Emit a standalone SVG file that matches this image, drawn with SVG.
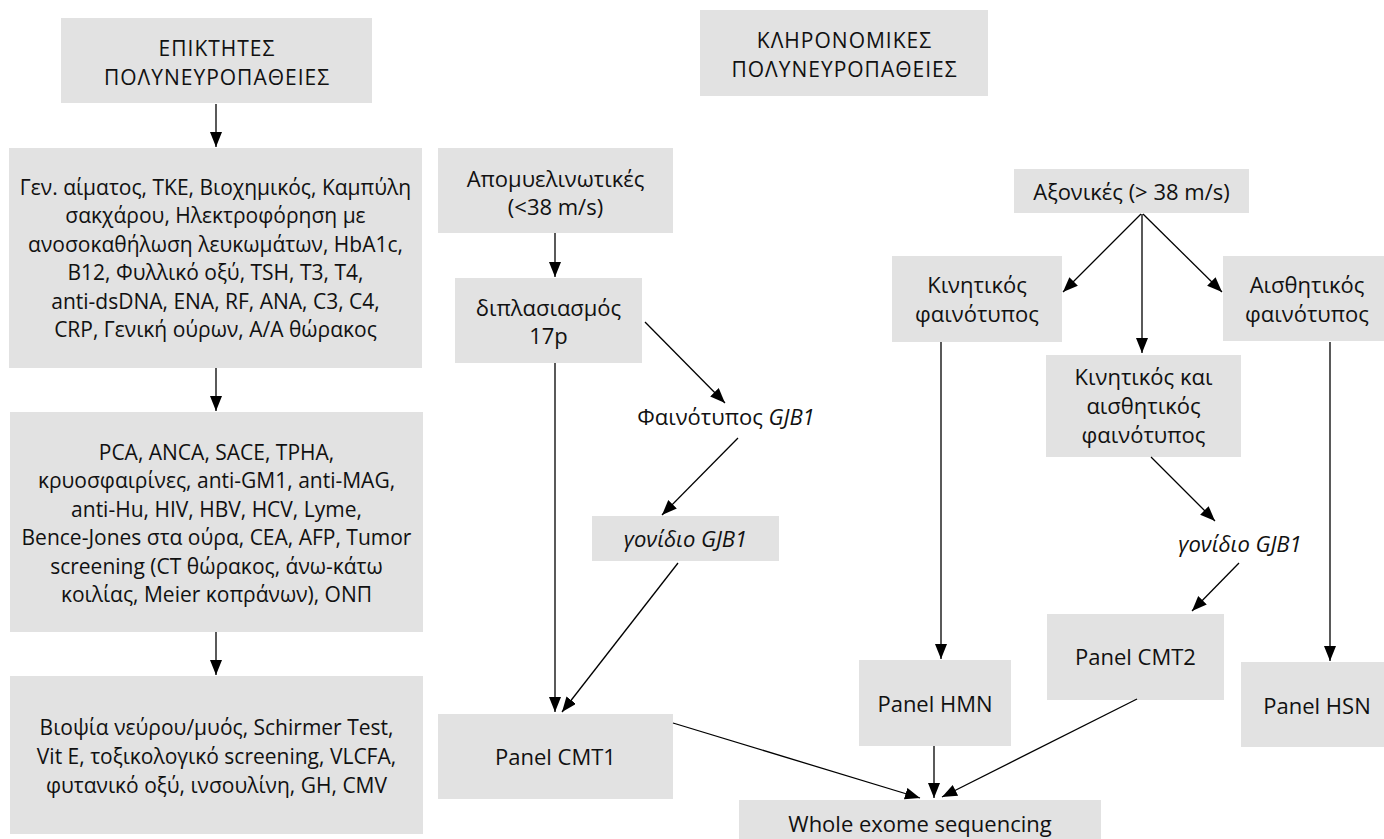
<svg xmlns="http://www.w3.org/2000/svg" width="1384" height="839" viewBox="0 0 1384 839">
<defs>
<marker id="ah" markerUnits="userSpaceOnUse" markerWidth="15" markerHeight="13" refX="15" refY="6" orient="auto">
<path d="M0,0 L15,6 L0,12 z" fill="#000"/>
</marker>
<style>
.box{fill:#e2e2e2;}
text{font-family:"Open Sans","Noto Sans","DejaVu Sans",sans-serif;font-size:22px;fill:#111;text-anchor:middle;}
.l{font-size:21px;}
.cap{letter-spacing:1px;}
.it{font-style:italic;}
.c line{stroke:#000;stroke-width:1.3;marker-end:url(#ah);}
</style>
</defs>
<rect width="1384" height="839" fill="#fff"/>
<g id="n-epiktites"><rect class="box" x="61" y="18" width="311" height="85"/>
<text class="l cap" x="217" y="56">ΕΠΙΚΤΗΤΕΣ</text><text class="l cap" x="217" y="85">ΠΟΛΥΝΕΥΡΟΠΑΘΕΙΕΣ</text></g>
<g id="n-tests1"><rect class="box" x="9" y="148" width="413" height="220"/>
<text class="l" x="215.5" y="195">Γεν. αίματος, ΤΚΕ, Βιοχημικός, Καμπύλη</text>
<text class="l" x="215.5" y="223.4">σακχάρου, Ηλεκτροφόρηση με</text>
<text class="l" x="215.5" y="251.8">ανοσοκαθήλωση λευκωμάτων, HbA1c,</text>
<text class="l" x="215.5" y="280.2">B12, Φυλλικό οξύ, TSH, T3, T4,</text>
<text class="l" x="215.5" y="308.6">anti-dsDNA, ENA, RF, ANA, C3, C4,</text>
<text class="l" x="215.5" y="337">CRP, Γενική ούρων, A/A θώρακος</text></g>
<g id="n-tests2"><rect class="box" x="10" y="412" width="413" height="220"/>
<text class="l" x="216.5" y="460">PCA, ANCA, SACE, TPHA,</text>
<text class="l" x="216.5" y="488.4">κρυοσφαιρίνες, anti-GM1, anti-MAG,</text>
<text class="l" x="216.5" y="516.8">anti-Hu, HIV, HBV, HCV, Lyme,</text>
<text class="l" x="216.5" y="545.2">Bence-Jones στα ούρα, CEA, AFP, Tumor</text>
<text class="l" x="216.5" y="573.6">screening (CT θώρακος, άνω-κάτω</text>
<text class="l" x="216.5" y="602">κοιλίας, Meier κοπράνων), ΟΝΠ</text></g>
<g id="n-tests3"><rect class="box" x="10" y="676" width="413" height="158"/>
<text class="l" x="216.5" y="735">Βιοψία νεύρου/μυός, Schirmer Test,</text>
<text class="l" x="216.5" y="764">Vit E, τοξικολογικό screening, VLCFA,</text>
<text class="l" x="216.5" y="793">φυτανικό οξύ, ινσουλίνη, GH, CMV</text></g>
<g id="n-klironomikes"><rect class="box" x="700" y="10" width="288" height="86"/>
<text class="l cap" x="844.5" y="48">ΚΛΗΡΟΝΟΜΙΚΕΣ</text><text class="l cap" x="844.5" y="77">ΠΟΛΥΝΕΥΡΟΠΑΘΕΙΕΣ</text></g>
<g id="n-apomyel"><rect class="box" x="438" y="148" width="235" height="85"/>
<text x="555.5" y="187">Απομυελινωτικές</text><text x="555.5" y="215">(&lt;38 m/s)</text></g>
<g id="n-dipl"><rect class="box" x="455" y="278" width="187" height="85"/>
<text x="548.5" y="316">διπλασιασμός</text><text x="548.5" y="344">17p</text></g>
<g id="n-fain-gjb1"><text x="726" y="425">Φαινότυπος <tspan class="it">GJB1</tspan></text></g>
<g id="n-gon-gjb1-a"><rect class="box" x="592" y="516" width="187" height="45"/>
<text class="it" x="685.5" y="547">γονίδιο GJB1</text></g>
<g id="n-cmt1"><rect class="box" x="438" y="714" width="235" height="85"/>
<text x="555.5" y="765">Panel CMT1</text></g>
<g id="n-wes"><rect class="box" x="739" y="800" width="362" height="45"/>
<text x="920" y="832">Whole exome sequencing</text></g>
<g id="n-axonikes"><rect class="box" x="1014" y="169" width="235" height="44"/>
<text x="1131.5" y="200">Αξονικές (&gt; 38 m/s)</text></g>
<g id="n-kinitikos"><rect class="box" x="892" y="256" width="170" height="86"/>
<text x="977" y="293">Κινητικός</text><text x="977" y="322">φαινότυπος</text></g>
<g id="n-aisthitikos"><rect class="box" x="1223" y="256" width="168" height="85"/>
<text x="1307" y="293">Αισθητικός</text><text x="1307" y="322">φαινότυπος</text></g>
<g id="n-kin-ais"><rect class="box" x="1046" y="355" width="195" height="102"/>
<text x="1143.5" y="385">Κινητικός και</text><text x="1143.5" y="414">αισθητικός</text><text x="1143.5" y="443">φαινότυπος</text></g>
<g id="n-gon-gjb1-b"><text class="it" x="1240" y="552">γονίδιο GJB1</text></g>
<g id="n-cmt2"><rect class="box" x="1047" y="614" width="177" height="86"/>
<text x="1135.5" y="665">Panel CMT2</text></g>
<g id="n-hmn"><rect class="box" x="859" y="660" width="152" height="86"/>
<text x="935" y="712">Panel HMN</text></g>
<g id="n-hsn"><rect class="box" x="1241" y="662" width="152" height="85"/>
<text x="1317" y="714">Panel HSN</text></g>
<g id="connectors" class="c">
<line x1="216" y1="104" x2="216" y2="147"/>
<line x1="216" y1="368" x2="216" y2="411"/>
<line x1="216" y1="632" x2="216" y2="675"/>
<line x1="555" y1="233" x2="555" y2="277"/>
<line x1="555" y1="363" x2="555" y2="712"/>
<line x1="645" y1="322" x2="725" y2="403"/>
<line x1="738" y1="438" x2="662" y2="515"/>
<line x1="678" y1="563" x2="562" y2="712"/>
<line x1="673" y1="723" x2="920" y2="798"/>
<line x1="1141" y1="214" x2="1063" y2="292"/>
<line x1="1142" y1="214" x2="1142" y2="353"/>
<line x1="1143" y1="214" x2="1222" y2="292"/>
<line x1="941" y1="342" x2="941" y2="659"/>
<line x1="1330" y1="342" x2="1330" y2="661"/>
<line x1="1151" y1="457" x2="1215" y2="521"/>
<line x1="1239" y1="563" x2="1192" y2="611"/>
<line x1="934" y1="746" x2="934" y2="798"/>
<line x1="1137" y1="699" x2="942" y2="797"/>
</g>
</svg>
